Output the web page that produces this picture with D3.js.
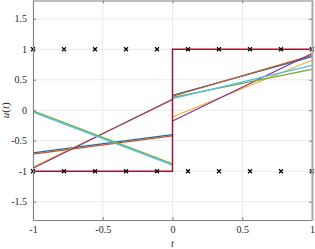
<!DOCTYPE html>
<html>
<head>
<meta charset="utf-8">
<script src="https://cdn.jsdelivr.net/npm/d3@7"></script>
<style>
  body { margin: 0; background: #fff; }
  svg text { font-family: "Liberation Serif", "DejaVu Serif", serif; fill: #262626; }
</style>
</head>
<body>
<div id="chart"></div>
<script>
// piecewise linear approximations: value at t=-1, t=0-, t=0+, t=1
var seriesNames = ["blue", "orange", "yellow", "purple", "green", "cyan"];
var seriesColors = ["#0072BD", "#D95319", "#EDB120", "#7E2F8E", "#77AC30", "#4DBEEE"];
var leftStart = [-0.70, -0.72, -0.93, -0.95, -0.01, -0.03];
var leftEnd = [-0.40, -0.42, 0.17, 0.18, -0.88, -0.90];
var rightStart = [0.245, 0.23, -0.11, -0.175, 0.212, 0.19];
var rightEnd = [0.88, 0.90, 0.82, 0.93, 0.67, 0.735];

// reference step
var stepT = [-1, 0, 0, 1];
var stepU = [-1, -1, 1, 1];

// sample points (crosses)
var sampleT = [-1, -0.7778, -0.5556, -0.3333, -0.1111, 0.1111, 0.3333, 0.5556, 0.7778, 1];
var sampleU = [1, -1];

var xTicks = [-1, -0.5, 0, 0.5, 1];
var yTicks = [-1.5, -1, -0.5, 0, 0.5, 1, 1.5];

var width = 315, height = 249;
var margin = {left: 33, right: 3, top: 0.5, bottom: 29};

var svg = d3.select("#chart").append("svg")
    .attr("width", width)
    .attr("height", height);

var x = d3.scaleLinear().domain([-1, 1]).range([margin.left, width - margin.right]);
var y = d3.scaleLinear().domain([-1.8, 1.8]).range([height - margin.bottom, margin.top]);

// grid
var grid = svg.append("g");
grid.selectAll(".gx").data(xTicks).enter().append("line")
    .attr("x1", function(d) { return x(d); }).attr("x2", function(d) { return x(d); })
    .attr("y1", y(-1.8)).attr("y2", y(1.8))
    .attr("stroke", "#ebebeb").attr("stroke-width", 1);
grid.selectAll(".gy").data(yTicks).enter().append("line")
    .attr("x1", x(-1)).attr("x2", x(1))
    .attr("y1", function(d) { return y(d); }).attr("y2", function(d) { return y(d); })
    .attr("stroke", "#ebebeb").attr("stroke-width", 1);

// lines
var line = d3.line().x(function(d) { return x(d[0]); }).y(function(d) { return y(d[1]); });
var lines = svg.append("g").attr("fill", "none").attr("stroke-width", 1.2);
seriesNames.forEach(function(name, i) {
  lines.append("path")
      .attr("d", line([[-1, leftStart[i]], [0, leftEnd[i]]]))
      .attr("stroke", seriesColors[i]);
});
seriesNames.forEach(function(name, i) {
  lines.append("path")
      .attr("d", line([[0, rightStart[i]], [1, rightEnd[i]]]))
      .attr("stroke", seriesColors[i]);
});

// step
svg.append("path")
    .attr("d", line(stepT.map(function(t, i) { return [t, stepU[i]]; })))
    .attr("fill", "none")
    .attr("stroke", "#A2142F")
    .attr("stroke-width", 1.5);

// crosses
var pts = [];
sampleU.forEach(function(u) { sampleT.forEach(function(t) { pts.push([t, u]); }); });
var s = 2;
svg.append("g").selectAll("path").data(pts).enter().append("path")
    .attr("d", function(d) {
      var cx = x(d[0]), cy = y(d[1]);
      return "M" + (cx - s) + "," + (cy - s) + "L" + (cx + s) + "," + (cy + s) +
             "M" + (cx - s) + "," + (cy + s) + "L" + (cx + s) + "," + (cy - s);
    })
    .attr("stroke", "#000")
    .attr("stroke-width", 1.2);

// axes box
var fmt = function(d) { return String(d); };
var xAxis = d3.axisBottom(x).tickValues(xTicks).tickSizeInner(-3).tickSizeOuter(0)
    .tickPadding(6).tickFormat(fmt);
var yAxis = d3.axisLeft(y).tickValues(yTicks).tickSizeInner(-3).tickSizeOuter(0)
    .tickPadding(6).tickFormat(fmt);

var gx = svg.append("g").attr("transform", "translate(0," + y(-1.8) + ")").call(xAxis);
var gy = svg.append("g").attr("transform", "translate(" + x(-1) + ",0)").call(yAxis);
[gx, gy].forEach(function(g) {
  g.select(".domain").attr("stroke", "#808080");
  g.selectAll(".tick line").attr("stroke", "#808080");
  g.selectAll(".tick text").style("font-size", "10px").attr("fill", "#333")
    .style("font-family", "'Liberation Serif', serif");
});

// top and right mirror
var gTop = svg.append("g").attr("transform", "translate(0," + y(1.8) + ")")
    .call(d3.axisTop(x).tickValues(xTicks).tickSizeInner(-3).tickSizeOuter(0).tickFormat(""));
var gRight = svg.append("g").attr("transform", "translate(" + x(1) + ",0)")
    .call(d3.axisRight(y).tickValues(yTicks).tickSizeInner(-3).tickSizeOuter(0).tickFormat(""));
gTop.select(".domain").attr("stroke", "#808080");
gTop.selectAll(".tick line").attr("stroke", "#808080");
gRight.select(".domain").attr("stroke", "#a8a8a8").attr("stroke-width", 2);
gRight.selectAll(".tick line").attr("stroke", "#808080");

// labels
svg.append("text")
    .attr("x", x(0)).attr("y", 247)
    .attr("text-anchor", "middle")
    .style("font-size", "10px").style("font-style", "italic")
    .text("t");

svg.append("text")
    .attr("transform", "translate(9," + y(0) + ") rotate(-90)")
    .attr("text-anchor", "middle")
    .style("font-size", "11px")
    .html('<tspan font-style="italic">u</tspan>(<tspan font-style="italic">t</tspan>)');
</script>
</body>
</html>
